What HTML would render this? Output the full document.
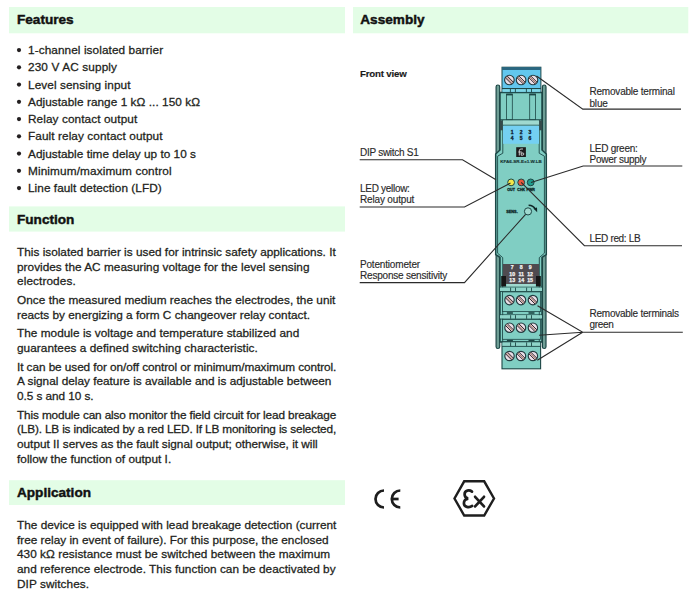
<!DOCTYPE html>
<html><head><meta charset="utf-8"><style>
html,body{margin:0;padding:0;background:#fff;}
body{width:699px;height:603px;overflow:hidden;}
svg{display:block;}
.h{font-family:"Liberation Sans",sans-serif;font-weight:bold;font-size:13.6px;fill:#111;stroke:#111;stroke-width:0.45px;}
.t{font-family:"Liberation Sans",sans-serif;font-size:11.8px;fill:#231f20;stroke:#231f20;stroke-width:0.28px;}
.fv{font-family:"Liberation Sans",sans-serif;font-weight:bold;font-size:9.7px;fill:#1a1a1a;stroke:#1a1a1a;stroke-width:0.15px;}
.l{font-family:"Liberation Sans",sans-serif;font-size:10.0px;fill:#2a2a2a;stroke:#2a2a2a;stroke-width:0.14px;}
.dv{font-family:"Liberation Sans",sans-serif;font-weight:bold;}
</style></head><body>
<svg width="699" height="603" viewBox="0 0 699 603">
<rect x="9" y="7" width="336" height="26.299999999999997" fill="#e3fde6"/>
<text x="17" y="23.5" class="h">Features</text>
<rect x="9" y="206.4" width="336" height="25.19999999999999" fill="#e3fde6"/>
<text x="17" y="223.6" class="h">Function</text>
<rect x="9" y="480.2" width="336" height="24.80000000000001" fill="#e3fde6"/>
<text x="17" y="496.6" class="h">Application</text>
<rect x="353" y="7" width="335.29999999999995" height="26.299999999999997" fill="#e3fde6"/>
<text x="360.3" y="23.6" class="h">Assembly</text>
<circle cx="19" cy="50.10" r="2.1" fill="#231f20"/>
<text x="28" y="54.00" class="t" textLength="135.1" lengthAdjust="spacing">1-channel isolated barrier</text>
<circle cx="19" cy="67.35" r="2.1" fill="#231f20"/>
<text x="28" y="71.25" class="t" textLength="89.0" lengthAdjust="spacing">230 V AC supply</text>
<circle cx="19" cy="84.60" r="2.1" fill="#231f20"/>
<text x="28" y="88.50" class="t" textLength="102.5" lengthAdjust="spacing">Level sensing input</text>
<circle cx="19" cy="101.85" r="2.1" fill="#231f20"/>
<text x="28" y="105.75" class="t" textLength="172.0" lengthAdjust="spacing">Adjustable range 1 kΩ ... 150 kΩ</text>
<circle cx="19" cy="119.10" r="2.1" fill="#231f20"/>
<text x="28" y="123.00" class="t" textLength="109.2" lengthAdjust="spacing">Relay contact output</text>
<circle cx="19" cy="136.35" r="2.1" fill="#231f20"/>
<text x="28" y="140.25" class="t" textLength="134.5" lengthAdjust="spacing">Fault relay contact output</text>
<circle cx="19" cy="153.60" r="2.1" fill="#231f20"/>
<text x="28" y="157.50" class="t" textLength="168.0" lengthAdjust="spacing">Adjustable time delay up to 10 s</text>
<circle cx="19" cy="170.85" r="2.1" fill="#231f20"/>
<text x="28" y="174.75" class="t" textLength="143.5" lengthAdjust="spacing">Minimum/maximum control</text>
<circle cx="19" cy="188.10" r="2.1" fill="#231f20"/>
<text x="28" y="192.00" class="t" textLength="133.7" lengthAdjust="spacing">Line fault detection (LFD)</text>
<text x="17" y="255.8" class="t" textLength="318.7" lengthAdjust="spacing">This isolated barrier is used for intrinsic safety applications. It</text>
<text x="17" y="270.8" class="t" textLength="292.5" lengthAdjust="spacing">provides the AC measuring voltage for the level sensing</text>
<text x="17" y="285.2" class="t" textLength="58.7" lengthAdjust="spacing">electrodes.</text>
<text x="17" y="304.0" class="t" textLength="318.4" lengthAdjust="spacing">Once the measured medium reaches the electrodes, the unit</text>
<text x="17" y="318.9" class="t" textLength="293.0" lengthAdjust="spacing">reacts by energizing a form C changeover relay contact.</text>
<text x="17" y="336.9" class="t" textLength="282.2" lengthAdjust="spacing">The module is voltage and temperature stabilized and</text>
<text x="17" y="351.9" class="t" textLength="240.8" lengthAdjust="spacing">guarantees a defined switching characteristic.</text>
<text x="17" y="370.9" class="t" textLength="319.4" lengthAdjust="spacing">It can be used for on/off control or minimum/maximum control.</text>
<text x="17" y="385.4" class="t" textLength="314.4" lengthAdjust="spacing">A signal delay feature is available and is adjustable between</text>
<text x="17" y="400.2" class="t" textLength="76.5" lengthAdjust="spacing">0.5 s and 10 s.</text>
<text x="17" y="419.0" class="t" textLength="319.2" lengthAdjust="spacing">This module can also monitor the field circuit for lead breakage</text>
<text x="17" y="433.4" class="t" textLength="319.2" lengthAdjust="spacing">(LB). LB is indicated by a red LED. If LB monitoring is selected,</text>
<text x="17" y="447.9" class="t" textLength="300.7" lengthAdjust="spacing">output II serves as the fault signal output; otherwise, it will</text>
<text x="17" y="462.5" class="t" textLength="154.2" lengthAdjust="spacing">follow the function of output I.</text>
<text x="17" y="529.0" class="t" textLength="319.4" lengthAdjust="spacing">The device is equipped with lead breakage detection (current</text>
<text x="17" y="543.7" class="t" textLength="311.5" lengthAdjust="spacing">free relay in event of failure). For this purpose, the enclosed</text>
<text x="17" y="558.4" class="t" textLength="313.1" lengthAdjust="spacing">430 kΩ resistance must be switched between the maximum</text>
<text x="17" y="573.0" class="t" textLength="318.6" lengthAdjust="spacing">and reference electrode. This function can be deactivated by</text>
<text x="17" y="587.7" class="t" textLength="72.1" lengthAdjust="spacing">DIP switches.</text>
<text x="360" y="76.9" class="fv" textLength="46.8" lengthAdjust="spacing">Front view</text>
<text x="589.5" y="94.8" class="l" textLength="85.4" lengthAdjust="spacing">Removable terminal</text>
<text x="589.5" y="106.8" class="l" textLength="18.3" lengthAdjust="spacing">blue</text>
<text x="360" y="156.1" class="l" textLength="58.8" lengthAdjust="spacing">DIP switch S1</text>
<text x="360" y="191.9" class="l" textLength="49.9" lengthAdjust="spacing">LED yellow:</text>
<text x="360" y="202.6" class="l" textLength="54.3" lengthAdjust="spacing">Relay output</text>
<text x="589.5" y="152.0" class="l" textLength="48.3" lengthAdjust="spacing">LED green:</text>
<text x="589.5" y="162.6" class="l" textLength="57.0" lengthAdjust="spacing">Power supply</text>
<text x="589.5" y="242.1" class="l" textLength="51.1" lengthAdjust="spacing">LED red: LB</text>
<text x="360" y="267.9" class="l" textLength="60.1" lengthAdjust="spacing">Potentiometer</text>
<text x="360" y="278.8" class="l" textLength="87.3" lengthAdjust="spacing">Response sensitivity</text>
<text x="589.5" y="316.8" class="l" textLength="89.6" lengthAdjust="spacing">Removable terminals</text>
<text x="589.5" y="328.4" class="l" textLength="24.3" lengthAdjust="spacing">green</text>
<g id="dev">
<rect x="496.1" y="85" width="3.6" height="263.5" rx="1.8" fill="#6e9e95" stroke="#1d4746" stroke-width="1.2"/>
<rect x="542.4" y="85" width="3.6" height="263.5" rx="1.8" fill="#6e9e95" stroke="#1d4746" stroke-width="1.2"/>
<path d="M500,92.5 H542 V150 L546.3,154 V254.5 L542,257.5 V342 H500 V257.5 L495.7,254.5 V154 L500,150 Z" fill="#80cec3" stroke="#1d4746" stroke-width="1.5"/>
<path d="M502.8,120 V153.2 L497.6,156.2 V253.2 L502.7,257.6 V342 M539.2,120 V153.2 L544.4,156.2 V253.2 L539.3,257.6 V342" stroke="#1d4746" stroke-width="0.9" fill="none"/>
<rect x="506.5" y="94.3" width="5.8" height="25.5" fill="#80cec3" stroke="#1d4746" stroke-width="0.8"/>
<rect x="506.2" y="93.6" width="6.4" height="1.8" fill="#1d4746"/>
<rect x="529.7" y="94.3" width="5.8" height="25.5" fill="#80cec3" stroke="#1d4746" stroke-width="0.8"/>
<rect x="529.4000000000001" y="93.6" width="6.4" height="1.8" fill="#1d4746"/>
<line x1="500" y1="119.9" x2="542" y2="119.9" stroke="#1d4746" stroke-width="1.1"/>
<rect x="500" y="120.5" width="2.8" height="9.8" fill="#34494a"/>
<rect x="539.2" y="120.5" width="2.8" height="9.8" fill="#34494a"/>
<rect x="503" y="120.5" width="36" height="4.6" fill="#9fd9cf"/>
<line x1="503" y1="125.2" x2="539" y2="125.2" stroke="#1d4746" stroke-width="0.8"/>
<rect x="503" y="125.8" width="36" height="18" fill="#74d0f2"/>
<text x="512.2" y="133.9" class="dv" font-size="5.0" fill="#0d2030" stroke="#0d2030" stroke-width="0.3" text-anchor="middle">1</text>
<text x="512.2" y="139.8" class="dv" font-size="5.0" fill="#0d2030" stroke="#0d2030" stroke-width="0.3" text-anchor="middle">4</text>
<text x="521.0500000000001" y="133.9" class="dv" font-size="5.0" fill="#0d2030" stroke="#0d2030" stroke-width="0.3" text-anchor="middle">2</text>
<text x="521.0500000000001" y="139.8" class="dv" font-size="5.0" fill="#0d2030" stroke="#0d2030" stroke-width="0.3" text-anchor="middle">5</text>
<text x="529.9000000000001" y="133.9" class="dv" font-size="5.0" fill="#0d2030" stroke="#0d2030" stroke-width="0.3" text-anchor="middle">3</text>
<text x="529.9000000000001" y="139.8" class="dv" font-size="5.0" fill="#0d2030" stroke="#0d2030" stroke-width="0.3" text-anchor="middle">6</text>
<rect x="516.2" y="147.2" width="9.7" height="9.8" fill="#1b1b1b"/>
<path d="M519.3,155.5 V150.8 Q519.3,149 521,149 H523 M518.4,152 H521.8 M521.2,153 H523 Q523.8,153 523.8,154 Q523.8,155.2 522.6,155.2 H521.2 Z" fill="none" stroke="#ddd" stroke-width="0.9"/>
<text x="521" y="163.3" class="dv" font-size="4.4" fill="#163030" stroke="#163030" stroke-width="0.12" text-anchor="middle" textLength="41.5" lengthAdjust="spacingAndGlyphs">KFA6-SR-Ex1.W.LB</text>
<circle cx="511.1" cy="182.4" r="3.4" fill="#f4e84a" stroke="#1d4746" stroke-width="1"/>
<circle cx="521.2" cy="182.4" r="3.4" fill="#e8573c" stroke="#1d4746" stroke-width="1"/>
<circle cx="530.7" cy="182.4" r="3.4" fill="#1e9c8c" stroke="#1d4746" stroke-width="1"/>
<text x="511.1" y="190.9" class="dv" font-size="3.6" fill="#0f2a2a" stroke="#0f2a2a" stroke-width="0.3" text-anchor="middle">OUT</text>
<text x="521.2" y="190.9" class="dv" font-size="3.6" fill="#0f2a2a" stroke="#0f2a2a" stroke-width="0.3" text-anchor="middle">CHK</text>
<text x="530.7" y="190.9" class="dv" font-size="3.6" fill="#0f2a2a" stroke="#0f2a2a" stroke-width="0.3" text-anchor="middle">PWR</text>
<text x="512" y="213.3" class="dv" font-size="3.8" fill="#0f2a2a" stroke="#0f2a2a" stroke-width="0.3" text-anchor="middle">SENS.</text>
<circle cx="528" cy="211.4" r="3.6" fill="#9fd9cf" stroke="#1d4746" stroke-width="1"/>
<path d="M528.6,205.2 Q533.5,205.4 535.3,209.2" fill="none" stroke="#102828" stroke-width="1.6"/>
<path d="M533.4,208.6 L537.2,212.3 L537.0,207.6 Z" fill="#102828"/>
<rect x="503" y="264" width="36" height="20" fill="#4f4b50"/>
<text x="512.2" y="269.0" class="dv" font-size="5.2" fill="#f5f5f5" stroke="#f5f5f5" stroke-width="0.25" text-anchor="middle">7</text>
<text x="512.2" y="275.9" class="dv" font-size="5.2" fill="#f5f5f5" stroke="#f5f5f5" stroke-width="0.25" text-anchor="middle">10</text>
<text x="512.2" y="281.9" class="dv" font-size="5.2" fill="#f5f5f5" stroke="#f5f5f5" stroke-width="0.25" text-anchor="middle">13</text>
<text x="521.1500000000001" y="269.0" class="dv" font-size="5.2" fill="#f5f5f5" stroke="#f5f5f5" stroke-width="0.25" text-anchor="middle">8</text>
<text x="521.1500000000001" y="275.9" class="dv" font-size="5.2" fill="#f5f5f5" stroke="#f5f5f5" stroke-width="0.25" text-anchor="middle">11</text>
<text x="521.1500000000001" y="281.9" class="dv" font-size="5.2" fill="#f5f5f5" stroke="#f5f5f5" stroke-width="0.25" text-anchor="middle">14</text>
<text x="530.1" y="269.0" class="dv" font-size="5.2" fill="#f5f5f5" stroke="#f5f5f5" stroke-width="0.25" text-anchor="middle">9</text>
<text x="530.1" y="275.9" class="dv" font-size="5.2" fill="#f5f5f5" stroke="#f5f5f5" stroke-width="0.25" text-anchor="middle">12</text>
<text x="530.1" y="281.9" class="dv" font-size="5.2" fill="#f5f5f5" stroke="#f5f5f5" stroke-width="0.25" text-anchor="middle">15</text>
<rect x="501.2" y="276" width="4.8" height="10.5" fill="#161616"/>
<rect x="536" y="276" width="4.8" height="10.5" fill="#161616"/>
<rect x="506.9" y="284" width="28.3" height="2.8" fill="#9fd9cf"/>
<line x1="500" y1="287.20000000000005" x2="542" y2="287.20000000000005" stroke="#1d4746" stroke-width="0.9"/>
<rect x="500" y="287.6" width="42" height="3.5" fill="#8fd4c9"/>
<line x1="510.6" y1="287.6" x2="510.6" y2="291.20000000000005" stroke="#1d4746" stroke-width="0.9"/>
<line x1="515.5" y1="287.6" x2="515.5" y2="291.20000000000005" stroke="#1d4746" stroke-width="0.9"/>
<line x1="526.6" y1="287.6" x2="526.6" y2="291.20000000000005" stroke="#1d4746" stroke-width="0.9"/>
<line x1="531.5" y1="287.6" x2="531.5" y2="291.20000000000005" stroke="#1d4746" stroke-width="0.9"/>
<line x1="500" y1="291.5" x2="542" y2="291.5" stroke="#1d4746" stroke-width="0.9"/>
<rect x="502.4" y="291.90000000000003" width="38" height="19.69999999999999" fill="#80cec3" stroke="#1d4746" stroke-width="0.8"/>
<circle cx="509.5" cy="300.1" r="4.7" fill="#eadde6" stroke="#233c40" stroke-width="1.15"/>
<line x1="506.39" y1="296.99" x2="512.61" y2="303.21" stroke="#b07868" stroke-width="1.0"/>
<line x1="505.62" y1="297.99" x2="511.61" y2="303.98" stroke="#2b2226" stroke-width="1.0"/>
<line x1="507.39" y1="296.22" x2="513.38" y2="302.21" stroke="#2b2226" stroke-width="1.0"/>
<circle cx="521" cy="300.1" r="4.7" fill="#eadde6" stroke="#233c40" stroke-width="1.15"/>
<line x1="517.89" y1="296.99" x2="524.11" y2="303.21" stroke="#b07868" stroke-width="1.0"/>
<line x1="517.12" y1="297.99" x2="523.11" y2="303.98" stroke="#2b2226" stroke-width="1.0"/>
<line x1="518.89" y1="296.22" x2="524.88" y2="302.21" stroke="#2b2226" stroke-width="1.0"/>
<circle cx="532.9" cy="300.1" r="4.7" fill="#eadde6" stroke="#233c40" stroke-width="1.15"/>
<line x1="529.79" y1="296.99" x2="536.01" y2="303.21" stroke="#b07868" stroke-width="1.0"/>
<line x1="529.02" y1="297.99" x2="535.01" y2="303.98" stroke="#2b2226" stroke-width="1.0"/>
<line x1="530.79" y1="296.22" x2="536.78" y2="302.21" stroke="#2b2226" stroke-width="1.0"/>
<rect x="506.9" y="312.2" width="6" height="1.6" fill="#1d4746"/>
<rect x="528.5" y="312.2" width="6" height="1.6" fill="#1d4746"/>
<line x1="500" y1="314.8" x2="542" y2="314.8" stroke="#1d4746" stroke-width="0.9"/>
<rect x="500" y="315.2" width="42" height="3.5" fill="#8fd4c9"/>
<line x1="510.6" y1="315.2" x2="510.6" y2="318.8" stroke="#1d4746" stroke-width="0.9"/>
<line x1="515.5" y1="315.2" x2="515.5" y2="318.8" stroke="#1d4746" stroke-width="0.9"/>
<line x1="526.6" y1="315.2" x2="526.6" y2="318.8" stroke="#1d4746" stroke-width="0.9"/>
<line x1="531.5" y1="315.2" x2="531.5" y2="318.8" stroke="#1d4746" stroke-width="0.9"/>
<line x1="500" y1="319.09999999999997" x2="542" y2="319.09999999999997" stroke="#1d4746" stroke-width="0.9"/>
<rect x="502.4" y="319.5" width="38" height="19.80000000000001" fill="#80cec3" stroke="#1d4746" stroke-width="0.8"/>
<circle cx="509.5" cy="327.7" r="4.7" fill="#eadde6" stroke="#233c40" stroke-width="1.15"/>
<line x1="506.39" y1="324.59" x2="512.61" y2="330.81" stroke="#b07868" stroke-width="1.0"/>
<line x1="505.62" y1="325.59" x2="511.61" y2="331.58" stroke="#2b2226" stroke-width="1.0"/>
<line x1="507.39" y1="323.82" x2="513.38" y2="329.81" stroke="#2b2226" stroke-width="1.0"/>
<circle cx="521" cy="327.7" r="4.7" fill="#eadde6" stroke="#233c40" stroke-width="1.15"/>
<line x1="517.89" y1="324.59" x2="524.11" y2="330.81" stroke="#b07868" stroke-width="1.0"/>
<line x1="517.12" y1="325.59" x2="523.11" y2="331.58" stroke="#2b2226" stroke-width="1.0"/>
<line x1="518.89" y1="323.82" x2="524.88" y2="329.81" stroke="#2b2226" stroke-width="1.0"/>
<circle cx="532.9" cy="327.7" r="4.7" fill="#eadde6" stroke="#233c40" stroke-width="1.15"/>
<line x1="529.79" y1="324.59" x2="536.01" y2="330.81" stroke="#b07868" stroke-width="1.0"/>
<line x1="529.02" y1="325.59" x2="535.01" y2="331.58" stroke="#2b2226" stroke-width="1.0"/>
<line x1="530.79" y1="323.82" x2="536.78" y2="329.81" stroke="#2b2226" stroke-width="1.0"/>
<rect x="506.9" y="339.8" width="6" height="1.6" fill="#1d4746"/>
<rect x="528.5" y="339.8" width="6" height="1.6" fill="#1d4746"/>
<rect x="502" y="342" width="38.6" height="26.8" fill="#80cec3" stroke="#1d4746" stroke-width="1.1"/>
<rect x="502.5" y="342.5" width="37.6" height="3.5" fill="#8fd4c9"/>
<line x1="510.6" y1="342.4" x2="510.6" y2="346.2" stroke="#1d4746" stroke-width="0.9"/>
<line x1="515.5" y1="342.4" x2="515.5" y2="346.2" stroke="#1d4746" stroke-width="0.9"/>
<line x1="526.6" y1="342.4" x2="526.6" y2="346.2" stroke="#1d4746" stroke-width="0.9"/>
<line x1="531.5" y1="342.4" x2="531.5" y2="346.2" stroke="#1d4746" stroke-width="0.9"/>
<line x1="502" y1="346.4" x2="540.6" y2="346.4" stroke="#1d4746" stroke-width="0.9"/>
<circle cx="509.5" cy="356" r="4.7" fill="#eadde6" stroke="#233c40" stroke-width="1.15"/>
<line x1="506.39" y1="352.89" x2="512.61" y2="359.11" stroke="#b07868" stroke-width="1.0"/>
<line x1="505.62" y1="353.89" x2="511.61" y2="359.88" stroke="#2b2226" stroke-width="1.0"/>
<line x1="507.39" y1="352.12" x2="513.38" y2="358.11" stroke="#2b2226" stroke-width="1.0"/>
<circle cx="521" cy="356" r="4.7" fill="#eadde6" stroke="#233c40" stroke-width="1.15"/>
<line x1="517.89" y1="352.89" x2="524.11" y2="359.11" stroke="#b07868" stroke-width="1.0"/>
<line x1="517.12" y1="353.89" x2="523.11" y2="359.88" stroke="#2b2226" stroke-width="1.0"/>
<line x1="518.89" y1="352.12" x2="524.88" y2="358.11" stroke="#2b2226" stroke-width="1.0"/>
<circle cx="532.9" cy="356" r="4.7" fill="#eadde6" stroke="#233c40" stroke-width="1.15"/>
<line x1="529.79" y1="352.89" x2="536.01" y2="359.11" stroke="#b07868" stroke-width="1.0"/>
<line x1="529.02" y1="353.89" x2="535.01" y2="359.88" stroke="#2b2226" stroke-width="1.0"/>
<line x1="530.79" y1="352.12" x2="536.78" y2="358.11" stroke="#2b2226" stroke-width="1.0"/>
<rect x="502" y="67.2" width="38.9" height="25" fill="#62c7ee" stroke="#1d4746" stroke-width="1"/>
<rect x="502" y="67.2" width="38.9" height="2.8" fill="#2a6680"/>
<line x1="502" y1="88.6" x2="540.9" y2="88.6" stroke="#1d4746" stroke-width="1.1"/>
<rect x="502.5" y="89.2" width="37.9" height="2.6" fill="#7fd6e6"/>
<line x1="510.4" y1="89" x2="510.4" y2="92.2" stroke="#1d4746" stroke-width="0.9"/>
<line x1="515.4" y1="89" x2="515.4" y2="92.2" stroke="#1d4746" stroke-width="0.9"/>
<line x1="526.4" y1="89" x2="526.4" y2="92.2" stroke="#1d4746" stroke-width="0.9"/>
<line x1="531.5" y1="89" x2="531.5" y2="92.2" stroke="#1d4746" stroke-width="0.9"/>
<circle cx="509.4" cy="80" r="4.8" fill="#eadde6" stroke="#233c40" stroke-width="1.15"/>
<line x1="506.22" y1="76.82" x2="512.58" y2="83.18" stroke="#b07868" stroke-width="1.0"/>
<line x1="505.45" y1="77.82" x2="511.58" y2="83.95" stroke="#2b2226" stroke-width="1.0"/>
<line x1="507.22" y1="76.05" x2="513.35" y2="82.18" stroke="#2b2226" stroke-width="1.0"/>
<circle cx="521.1" cy="80" r="4.8" fill="#eadde6" stroke="#233c40" stroke-width="1.15"/>
<line x1="517.92" y1="76.82" x2="524.28" y2="83.18" stroke="#b07868" stroke-width="1.0"/>
<line x1="517.15" y1="77.82" x2="523.28" y2="83.95" stroke="#2b2226" stroke-width="1.0"/>
<line x1="518.92" y1="76.05" x2="525.05" y2="82.18" stroke="#2b2226" stroke-width="1.0"/>
<circle cx="533" cy="80" r="4.8" fill="#eadde6" stroke="#233c40" stroke-width="1.15"/>
<line x1="529.82" y1="76.82" x2="536.18" y2="83.18" stroke="#b07868" stroke-width="1.0"/>
<line x1="529.05" y1="77.82" x2="535.18" y2="83.95" stroke="#2b2226" stroke-width="1.0"/>
<line x1="530.82" y1="76.05" x2="536.95" y2="82.18" stroke="#2b2226" stroke-width="1.0"/>
</g>
<path d="M681,109.1 H582.8 L536.5,76" fill="none" stroke="#2b2b2b" stroke-width="1.1"/>
<path d="M359.7,159.8 H462.5 L496,179.8" fill="none" stroke="#2b2b2b" stroke-width="1.1"/>
<path d="M359.7,207 H464.5 L510.5,183" fill="none" stroke="#2b2b2b" stroke-width="1.1"/>
<path d="M682.3,166 H583.2 L531,182.4" fill="none" stroke="#2b2b2b" stroke-width="1.1"/>
<path d="M682,245.7 H584.4 L521.2,182.4" fill="none" stroke="#2b2b2b" stroke-width="1.1"/>
<path d="M359.7,282.6 H464.5 L525.6,214.3" fill="none" stroke="#2b2b2b" stroke-width="1.1"/>
<path d="M682.8,332.2 H582.7 L537.5,305.8 M582.7,332.2 L539,335.2 M582.7,332.2 L537.3,360.2" fill="none" stroke="#2b2b2b" stroke-width="1.1"/>
<g fill="none" stroke="#1e1e1e" stroke-width="2.7" stroke-linecap="butt"><path d="M384,490.5 A8.5,8.5 0 0 0 384,507.5"/><path d="M400.3,490.5 A8.5,8.5 0 0 0 400.3,507.5"/><path d="M391,499 H398.6"/></g>
<g fill="none" stroke="#1e1e1e" stroke-width="2.4" stroke-linejoin="miter"><path d="M464.2,481.3 H484.2 L494,498.5 L484.2,515.5 H464.2 L454.5,498.5 Z"/><path d="M472,491.6 C469.5,489.6 464.6,490 464.6,494.2 C464.6,496.9 466.3,498.3 468.2,498.6 C465.8,499 463.9,500.6 463.9,503.2 C463.9,507.3 469.2,508 472.2,505.9" stroke-width="2.7" stroke-linecap="round"/><path d="M475.1,496.8 L484,506.4 M484,496.8 L475.1,506.4" stroke-width="2.7" stroke-linecap="round"/></g>
</svg>
</body></html>
